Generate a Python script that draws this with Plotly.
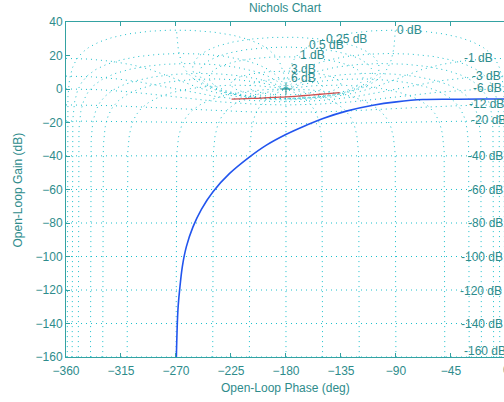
import numpy as np
import plotly.graph_objects as go

# ---- data ----
blue_phase = [-269.7, -268.4, -267.0, -264.8, -261.5, -256.1, -249.2, -239.7, -226.1,
              -209.7, -196.0, -179.7, -163.3, -149.7, -130.6, -108.8, -89.7, -67.9,
              -43.4, -20.0, 0.0]
blue_gain = [-160.0, -131.8, -119.8, -106.0, -94.1, -82.3, -71.8, -61.3, -50.4,
             -40.5, -33.5, -27.0, -21.6, -17.6, -13.2, -9.7, -7.7, -6.3,
             -6.1, -6.0, -6.0]

red_phase = [-224.5, -212.0, -200.0, -190.0, -180.0, -170.0, -160.0, -148.0, -136.0]
red_gain = [-6.0, -5.7, -5.4, -5.0, -4.7, -4.2, -3.6, -2.9, -2.2]

# Nichols grid levels
gain_levels_db = [6, 3, 1, 0.5, 0.25, 0, -1, -3, -6, -12, -20, -40, -60, -80,
                  -100, -120, -140, -160]
phase_levels_deg = [-1, -5, -10, -20, -30, -50, -90, -120, -150, -180]

pos_labels = ["0.25 dB", "0.5 dB", "1 dB", "3 dB", "6 dB", "0 dB"]
pos_label_x = [-147.9, -161.8, -169.2, -176.6, -176.6, -90.2]
pos_label_y = [29.7, 26.1, 20.1, 11.8, 6.4, 35.0]

neg_labels = ["-1 dB", "-3 dB", "-6 dB", "-12 dB", "-20 dB", "-40 dB", "-60 dB",
              "-80 dB", "-100 dB", "-120 dB", "-140 dB", "-160 dB"]
neg_label_x = [-35.4, -28.9, -28.0, -31.3, -29.7, -32.2, -31.6, -32.2, -37.9,
               -38.4, -37.3, -35.2]
neg_label_y = [18.5, 7.6, 0.7, -9.2, -18.6, -39.9, -60.3, -79.8, -100.4, -120.3,
               -140.2, -156.2]

xticks = [-360, -315, -270, -225, -180, -135, -90, -45]
yticks = [-160, -140, -120, -100, -80, -60, -40, -20, 0, 20, 40]

TEXT = "#2e8c8c"
AXIS = "#34a2a2"
GRID = "#1cc0cc"
FONT = "Liberation Sans, Arial, sans-serif"

SX, SY = 1.2222, 1.675


def thin(ph, g, step=1.5):
    d = np.hypot(np.diff(ph) * SX, np.diff(g) * SY)
    s = np.r_[0, np.cumsum(d)]
    idx = np.r_[0, np.nonzero(np.diff(np.floor(s / step)))[0] + 1]
    if idx[-1] != len(ph) - 1:
        idx = np.r_[idx, len(ph) - 1]
    return ph[idx], g[idx]


curves = []
for lev in gain_levels_db:
    m = 10 ** (lev / 20)
    if lev == 0:
        y = 0.5 * np.sinh(np.linspace(-5.4, 5.4, 20001))
        L = -0.5 + 1j * y
        ph = np.degrees(np.angle(L))
        ph = np.where(ph > 0, ph - 360, ph)
    elif m < 1:
        c = m * m / (1 - m * m)
        R = m / (1 - m * m)
        a = np.linspace(0, 2 * np.pi, 20001)
        L = c + R * np.exp(1j * a)
        ph = np.degrees(np.unwrap(np.angle(L))) - 360
    else:
        c = -m * m / (m * m - 1)
        R = m / (m * m - 1)
        a = np.linspace(0, 2 * np.pi, 20001)
        L = c + R * np.exp(1j * a)
        ph = np.degrees(np.angle(L))
        ph = np.where(ph > 0, ph - 360, ph)
    g = 20 * np.log10(np.abs(L))
    curves.append(thin(ph, g))

mm = np.logspace(-8.6, 4, 300000)
for psi in phase_levels_deg:
    T = mm * np.exp(1j * np.radians(psi))
    L = T / (1 - T)
    ph = np.degrees(np.angle(L))
    ph = np.where(ph > 0, ph - 360, ph)
    g = 20 * np.log10(np.abs(L))
    p2, g2 = thin(ph, g)
    curves.append((p2, g2))
    if psi != -180:
        curves.append((-360 - p2, g2))

gx, gy = [], []
for p, g in curves:
    gx.extend(np.round(p, 2).tolist()); gx.append(None)
    gy.extend(np.round(g, 2).tolist()); gy.append(None)

fig = go.Figure()
fig.add_trace(go.Scatter(x=gx, y=gy, mode="lines", hoverinfo="skip",
                         line=dict(color=GRID, width=1, dash="1px,4px")))
fig.add_trace(go.Scatter(x=red_phase, y=red_gain, mode="lines",
                         line=dict(color="#d05050", width=1.3, shape="spline")))
fig.add_trace(go.Scatter(x=blue_phase, y=blue_gain, mode="lines",
                         line=dict(color="#2255ee", width=1.6, shape="spline")))
fig.add_trace(go.Scatter(x=[-180], y=[0], mode="markers",
                         marker=dict(symbol="cross-thin", size=8,
                                     line=dict(color=TEXT, width=1))))

ann = []
for t, x, y in zip(pos_labels, pos_label_x, pos_label_y):
    ann.append(dict(text=t, x=x, y=y, xref="x", yref="y", xanchor="left",
                    yanchor="middle", showarrow=False, borderpad=0,
                    font=dict(color=TEXT, size=12, family=FONT)))
for t, x, y in zip(neg_labels, neg_label_x, neg_label_y):
    ann.append(dict(text=t, x=x, y=y, xref="x", yref="y", xanchor="left",
                    yanchor="middle", showarrow=False, borderpad=0,
                    font=dict(color=TEXT, size=12, family=FONT)))
ann.append(dict(text="0", x=1.0053, y=-0.039, xref="paper", yref="paper",
                xanchor="center", yanchor="middle", showarrow=False,
                font=dict(color=TEXT, size=12, family=FONT)))
ann.append(dict(text="Open-Loop Phase (deg)", x=0.5, y=-0.0925, xref="paper",
                yref="paper", xanchor="center", yanchor="middle", showarrow=False,
                font=dict(color=TEXT, size=12, family=FONT)))
ann.append(dict(text="Open-Loop Gain (dB)", x=-0.1096, y=0.5, xref="paper",
                yref="paper", xanchor="center", yanchor="middle", showarrow=False,
                textangle=-90, font=dict(color=TEXT, size=12, family=FONT)))

fig.update_layout(
    width=504, height=402,
    margin=dict(l=66, r=0, t=22, b=45, autoexpand=False),
    plot_bgcolor="white", paper_bgcolor="white",
    showlegend=False,
    font=dict(family=FONT, size=12, color=TEXT),
    title=dict(text="Nichols Chart", x=0.5, xref="paper", xanchor="center",
               y=1 - 7.5 / 402, yref="container", yanchor="middle",
               font=dict(size=12, color=TEXT, family=FONT)),
    annotations=ann,
)
fig.update_xaxes(range=[-360, -1.6], tickvals=xticks, ticks="inside", ticklen=4,
                 tickcolor=AXIS, showline=True, linecolor=AXIS, linewidth=1,
                 mirror="ticks", showgrid=False, zeroline=False, automargin=False,
                 tickfont=dict(color=TEXT, size=12, family=FONT),
                 ticklabelstandoff=3)
fig.update_yaxes(range=[-160, 40], tickvals=yticks, ticks="inside", ticklen=4,
                 tickcolor=AXIS, showline=True, linecolor=AXIS, linewidth=1,
                 mirror=False, showgrid=False, zeroline=False, automargin=False,
                 tickfont=dict(color=TEXT, size=12, family=FONT))

fig.write_html("out.html",
               config={"displayModeBar": False, "staticPlot": True},
               post_script="document.body.style.margin='0';"
                           "document.body.style.overflow='hidden';")
